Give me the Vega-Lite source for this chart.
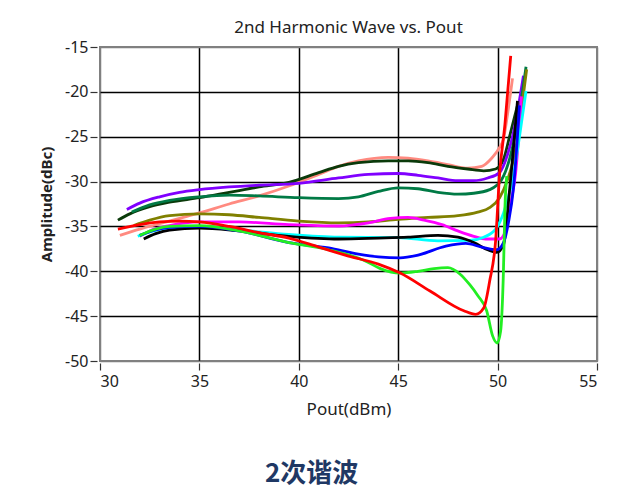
{
  "$schema": "https://vega.github.io/schema/vega-lite/v6.json",
  "background": "white",
  "padding": {"left": 38, "top": 18, "right": 0, "bottom": 10},
  "title": {"text": "2次谐波", "orient": "bottom", "anchor": "middle", "font": "Noto Sans CJK SC", "fontSize": 26, "fontWeight": "bold", "color": "#1f3864", "offset": 43, "dx": -7},
  "config": {
    "font": "Noto Sans",
    "view": {"stroke": "#808080", "strokeWidth": 2},
    "axis": {"domain": false, "grid": true, "gridWidth": 1.5, "tickColor": "#333", "tickWidth": 1.2, "labelFontSize": 16, "labelColor": "#222", "titleFontSize": 15, "titleColor": "#222", "labelExpr": "datum.value + ''"}
  },
  "vconcat": [
    {
      "title": {"text": "2nd Harmonic Wave vs. Pout", "frame": "group", "anchor": "middle", "fontSize": 17, "fontWeight": "normal", "color": "#222", "offset": 2},
      "width": 497,
      "height": 314,
      "data": {"values": [
        {"s": "salmon", "x": 31.0, "y": -36.0}, {"s": "salmon", "x": 32, "y": -35.3}, {"s": "salmon", "x": 33, "y": -34.7}, {"s": "salmon", "x": 34, "y": -34.1}, {"s": "salmon", "x": 35, "y": -33.5}, {"s": "salmon", "x": 36.5, "y": -32.5}, {"s": "salmon", "x": 38, "y": -31.6}, {"s": "salmon", "x": 39.5, "y": -30.5}, {"s": "salmon", "x": 41, "y": -29.2}, {"s": "salmon", "x": 42, "y": -28.3}, {"s": "salmon", "x": 43, "y": -27.7}, {"s": "salmon", "x": 44.5, "y": -27.3}, {"s": "salmon", "x": 45.5, "y": -27.4}, {"s": "salmon", "x": 46.5, "y": -27.7}, {"s": "salmon", "x": 47.5, "y": -28.1}, {"s": "salmon", "x": 48.5, "y": -28.5}, {"s": "salmon", "x": 49.2, "y": -28.3}, {"s": "salmon", "x": 49.7, "y": -27.4}, {"s": "salmon", "x": 50.1, "y": -26.2}, {"s": "salmon", "x": 50.3, "y": -25.2}, {"s": "salmon", "x": 50.5, "y": -22.5}, {"s": "salmon", "x": 50.75, "y": -18.5},
        {"s": "darkgreen", "x": 30.9, "y": -34.3}, {"s": "darkgreen", "x": 31.5, "y": -33.6}, {"s": "darkgreen", "x": 32.5, "y": -32.8}, {"s": "darkgreen", "x": 33.5, "y": -32.3}, {"s": "darkgreen", "x": 35, "y": -31.8}, {"s": "darkgreen", "x": 36.5, "y": -31.2}, {"s": "darkgreen", "x": 38, "y": -30.6}, {"s": "darkgreen", "x": 39.5, "y": -30.1}, {"s": "darkgreen", "x": 41, "y": -29.0}, {"s": "darkgreen", "x": 42, "y": -28.3}, {"s": "darkgreen", "x": 43, "y": -27.9}, {"s": "darkgreen", "x": 44.5, "y": -27.7}, {"s": "darkgreen", "x": 45.5, "y": -27.7}, {"s": "darkgreen", "x": 46.5, "y": -27.9}, {"s": "darkgreen", "x": 47.5, "y": -28.3}, {"s": "darkgreen", "x": 48.5, "y": -28.6}, {"s": "darkgreen", "x": 49.3, "y": -28.8}, {"s": "darkgreen", "x": 49.9, "y": -28.6}, {"s": "darkgreen", "x": 50.3, "y": -27.5}, {"s": "darkgreen", "x": 50.6, "y": -25.0}, {"s": "darkgreen", "x": 51.0, "y": -21.5},
        {"s": "purple", "x": 31.35, "y": -33.1}, {"s": "purple", "x": 32, "y": -32.4}, {"s": "purple", "x": 33, "y": -31.7}, {"s": "purple", "x": 34, "y": -31.2}, {"s": "purple", "x": 35, "y": -30.9}, {"s": "purple", "x": 36.5, "y": -30.6}, {"s": "purple", "x": 38, "y": -30.4}, {"s": "purple", "x": 40, "y": -30.2}, {"s": "purple", "x": 42, "y": -29.6}, {"s": "purple", "x": 43.5, "y": -29.2}, {"s": "purple", "x": 45, "y": -29.1}, {"s": "purple", "x": 46, "y": -29.3}, {"s": "purple", "x": 47, "y": -29.6}, {"s": "purple", "x": 48, "y": -29.9}, {"s": "purple", "x": 48.8, "y": -29.9}, {"s": "purple", "x": 49.5, "y": -29.6}, {"s": "purple", "x": 50.1, "y": -29.0}, {"s": "purple", "x": 50.5, "y": -27.0}, {"s": "purple", "x": 50.8, "y": -24.5}, {"s": "purple", "x": 51.3, "y": -18.2},
        {"s": "teal", "x": 31.6, "y": -33.4}, {"s": "teal", "x": 32.5, "y": -32.6}, {"s": "teal", "x": 33.5, "y": -32.1}, {"s": "teal", "x": 35, "y": -31.7}, {"s": "teal", "x": 36.5, "y": -31.5}, {"s": "teal", "x": 38, "y": -31.6}, {"s": "teal", "x": 40, "y": -31.8}, {"s": "teal", "x": 42, "y": -31.9}, {"s": "teal", "x": 43, "y": -31.7}, {"s": "teal", "x": 44, "y": -31.1}, {"s": "teal", "x": 45, "y": -30.7}, {"s": "teal", "x": 46, "y": -30.8}, {"s": "teal", "x": 47, "y": -31.2}, {"s": "teal", "x": 48, "y": -31.4}, {"s": "teal", "x": 48.8, "y": -31.3}, {"s": "teal", "x": 49.6, "y": -30.9}, {"s": "teal", "x": 50.2, "y": -29.8}, {"s": "teal", "x": 50.6, "y": -27.5}, {"s": "teal", "x": 51.0, "y": -23.5}, {"s": "teal", "x": 51.43, "y": -17.2},
        {"s": "olive", "x": 31.7, "y": -34.9}, {"s": "olive", "x": 32.5, "y": -34.3}, {"s": "olive", "x": 33.5, "y": -33.8}, {"s": "olive", "x": 35, "y": -33.6}, {"s": "olive", "x": 36.5, "y": -33.7}, {"s": "olive", "x": 38, "y": -34.0}, {"s": "olive", "x": 40, "y": -34.4}, {"s": "olive", "x": 42, "y": -34.6}, {"s": "olive", "x": 43.5, "y": -34.5}, {"s": "olive", "x": 45, "y": -34.2}, {"s": "olive", "x": 46.5, "y": -34.0}, {"s": "olive", "x": 48, "y": -33.8}, {"s": "olive", "x": 49, "y": -33.4}, {"s": "olive", "x": 49.6, "y": -32.9}, {"s": "olive", "x": 50.1, "y": -31.8}, {"s": "olive", "x": 50.5, "y": -29.8}, {"s": "olive", "x": 50.9, "y": -26.5}, {"s": "olive", "x": 51.2, "y": -22.0}, {"s": "olive", "x": 51.46, "y": -17.5},
        {"s": "magenta", "x": 32.0, "y": -36.1}, {"s": "magenta", "x": 32.5, "y": -35.5}, {"s": "magenta", "x": 33.5, "y": -34.9}, {"s": "magenta", "x": 35, "y": -34.5}, {"s": "magenta", "x": 37, "y": -34.5}, {"s": "magenta", "x": 39.5, "y": -34.8}, {"s": "magenta", "x": 42, "y": -34.95}, {"s": "magenta", "x": 43.5, "y": -34.6}, {"s": "magenta", "x": 44.6, "y": -34.1}, {"s": "magenta", "x": 45.5, "y": -34.0}, {"s": "magenta", "x": 46.3, "y": -34.3}, {"s": "magenta", "x": 47.2, "y": -34.8}, {"s": "magenta", "x": 48, "y": -35.5}, {"s": "magenta", "x": 48.8, "y": -36.1}, {"s": "magenta", "x": 49.4, "y": -36.4}, {"s": "magenta", "x": 50.1, "y": -36.4}, {"s": "magenta", "x": 50.45, "y": -35.1}, {"s": "magenta", "x": 50.7, "y": -32.0}, {"s": "magenta", "x": 50.9, "y": -29.2}, {"s": "magenta", "x": 51.2, "y": -20.5},
        {"s": "cyan", "x": 31.9, "y": -36.1}, {"s": "cyan", "x": 32.5, "y": -35.6}, {"s": "cyan", "x": 33.5, "y": -35.2}, {"s": "cyan", "x": 35, "y": -35.1}, {"s": "cyan", "x": 37, "y": -35.4}, {"s": "cyan", "x": 39.5, "y": -35.9}, {"s": "cyan", "x": 42, "y": -36.2}, {"s": "cyan", "x": 45, "y": -36.25}, {"s": "cyan", "x": 47, "y": -36.6}, {"s": "cyan", "x": 48.6, "y": -36.55}, {"s": "cyan", "x": 49.3, "y": -36.2}, {"s": "cyan", "x": 49.9, "y": -35.3}, {"s": "cyan", "x": 50.3, "y": -33.5}, {"s": "cyan", "x": 50.8, "y": -29.2}, {"s": "cyan", "x": 51.1, "y": -25.0}, {"s": "cyan", "x": 51.43, "y": -19.9},
        {"s": "black", "x": 32.2, "y": -36.4}, {"s": "black", "x": 32.8, "y": -35.8}, {"s": "black", "x": 33.5, "y": -35.4}, {"s": "black", "x": 35, "y": -35.2}, {"s": "black", "x": 37, "y": -35.5}, {"s": "black", "x": 39.5, "y": -36.1}, {"s": "black", "x": 42, "y": -36.4}, {"s": "black", "x": 44, "y": -36.3}, {"s": "black", "x": 45.5, "y": -36.2}, {"s": "black", "x": 47, "y": -36.0}, {"s": "black", "x": 48, "y": -36.2}, {"s": "black", "x": 48.8, "y": -36.8}, {"s": "black", "x": 49.5, "y": -37.6}, {"s": "black", "x": 49.95, "y": -37.9}, {"s": "black", "x": 50.3, "y": -37.0}, {"s": "black", "x": 50.6, "y": -31.0}, {"s": "black", "x": 51.0, "y": -21.0},
        {"s": "blue", "x": 32.0, "y": -36.0}, {"s": "blue", "x": 32.8, "y": -35.4}, {"s": "blue", "x": 33.5, "y": -35.1}, {"s": "blue", "x": 35, "y": -35.0}, {"s": "blue", "x": 37, "y": -35.5}, {"s": "blue", "x": 39.5, "y": -36.8}, {"s": "blue", "x": 41.5, "y": -37.4}, {"s": "blue", "x": 43, "y": -38.1}, {"s": "blue", "x": 44, "y": -38.4}, {"s": "blue", "x": 45.1, "y": -38.5}, {"s": "blue", "x": 46, "y": -38.2}, {"s": "blue", "x": 47.4, "y": -37.2}, {"s": "blue", "x": 48.4, "y": -36.9}, {"s": "blue", "x": 49.2, "y": -37.3}, {"s": "blue", "x": 49.95, "y": -37.6}, {"s": "blue", "x": 50.3, "y": -36.8}, {"s": "blue", "x": 50.55, "y": -34.5}, {"s": "blue", "x": 50.8, "y": -30.7}, {"s": "blue", "x": 51.1, "y": -21.5},
        {"s": "green", "x": 32.0, "y": -36.0}, {"s": "green", "x": 32.8, "y": -35.3}, {"s": "green", "x": 33.5, "y": -35.0}, {"s": "green", "x": 35, "y": -34.9}, {"s": "green", "x": 37, "y": -35.5}, {"s": "green", "x": 39.5, "y": -36.8}, {"s": "green", "x": 41.5, "y": -37.6}, {"s": "green", "x": 43.4, "y": -38.9}, {"s": "green", "x": 44.1, "y": -39.7}, {"s": "green", "x": 45.1, "y": -40.2}, {"s": "green", "x": 46, "y": -40.0}, {"s": "green", "x": 46.8, "y": -39.7}, {"s": "green", "x": 47.5, "y": -39.6}, {"s": "green", "x": 48.1, "y": -40.3}, {"s": "green", "x": 48.6, "y": -41.5}, {"s": "green", "x": 49.0, "y": -42.7}, {"s": "green", "x": 49.45, "y": -44.4}, {"s": "green", "x": 49.75, "y": -47.2}, {"s": "green", "x": 49.98, "y": -48.0}, {"s": "green", "x": 50.15, "y": -46.7}, {"s": "green", "x": 50.29, "y": -40.3}, {"s": "green", "x": 50.37, "y": -32.9}, {"s": "green", "x": 50.46, "y": -29.4},
        {"s": "red", "x": 30.9, "y": -35.3}, {"s": "red", "x": 32, "y": -34.8}, {"s": "red", "x": 33, "y": -34.5}, {"s": "red", "x": 34, "y": -34.4}, {"s": "red", "x": 35, "y": -34.5}, {"s": "red", "x": 36.5, "y": -35.0}, {"s": "red", "x": 38, "y": -35.7}, {"s": "red", "x": 39.5, "y": -36.3}, {"s": "red", "x": 41, "y": -37.3}, {"s": "red", "x": 42.5, "y": -38.3}, {"s": "red", "x": 44, "y": -39.2}, {"s": "red", "x": 45.1, "y": -40.2}, {"s": "red", "x": 46.6, "y": -42.2}, {"s": "red", "x": 48.3, "y": -44.4}, {"s": "red", "x": 48.9, "y": -44.8}, {"s": "red", "x": 49.3, "y": -44.1}, {"s": "red", "x": 49.6, "y": -41.1}, {"s": "red", "x": 49.9, "y": -36.6}, {"s": "red", "x": 50.1, "y": -29.2}, {"s": "red", "x": 50.37, "y": -23.6}, {"s": "red", "x": 50.66, "y": -16.0}
      ]},
      "mark": {"type": "line", "interpolate": "monotone", "strokeWidth": 2.8, "clip": true},
      "encoding": {
        "x": {"field": "x", "type": "quantitative", "scale": {"domain": [30, 55], "nice": false}, "axis": {"title": "Pout(dBm)", "values": [30, 35, 40, 45, 50, 55], "offset": 2, "tickSize": 7, "labelPadding": 3, "titleFontSize": 17, "titleFontWeight": "normal", "titlePadding": 12, "gridColor": {"condition": {"test": "datum.value <= 30 || datum.value >= 55", "value": "#808080"}, "value": "#000000"}}},
        "y": {"field": "y", "type": "quantitative", "scale": {"domain": [-50, -15], "nice": false}, "axis": {"title": "Amplitude(dBc)", "values": [-15, -20, -25, -30, -35, -40, -45, -50], "offset": 3, "tickSize": 7, "labelPadding": 2, "titleFontWeight": "bold", "titlePadding": 10, "gridColor": {"condition": {"test": "datum.value <= -50 || datum.value >= -15", "value": "#808080"}, "value": "#000000"}}},
        "color": {"field": "s", "type": "nominal", "legend": null, "scale": {"domain": ["salmon", "darkgreen", "purple", "teal", "olive", "magenta", "cyan", "black", "blue", "green", "red"], "range": ["#ff8a80", "#0a3a0a", "#8000ff", "#007a45", "#808000", "#ff00ff", "#00ffff", "#000000", "#0000ff", "#22ee22", "#ff0000"]}}
      }
    }
  ]
}
